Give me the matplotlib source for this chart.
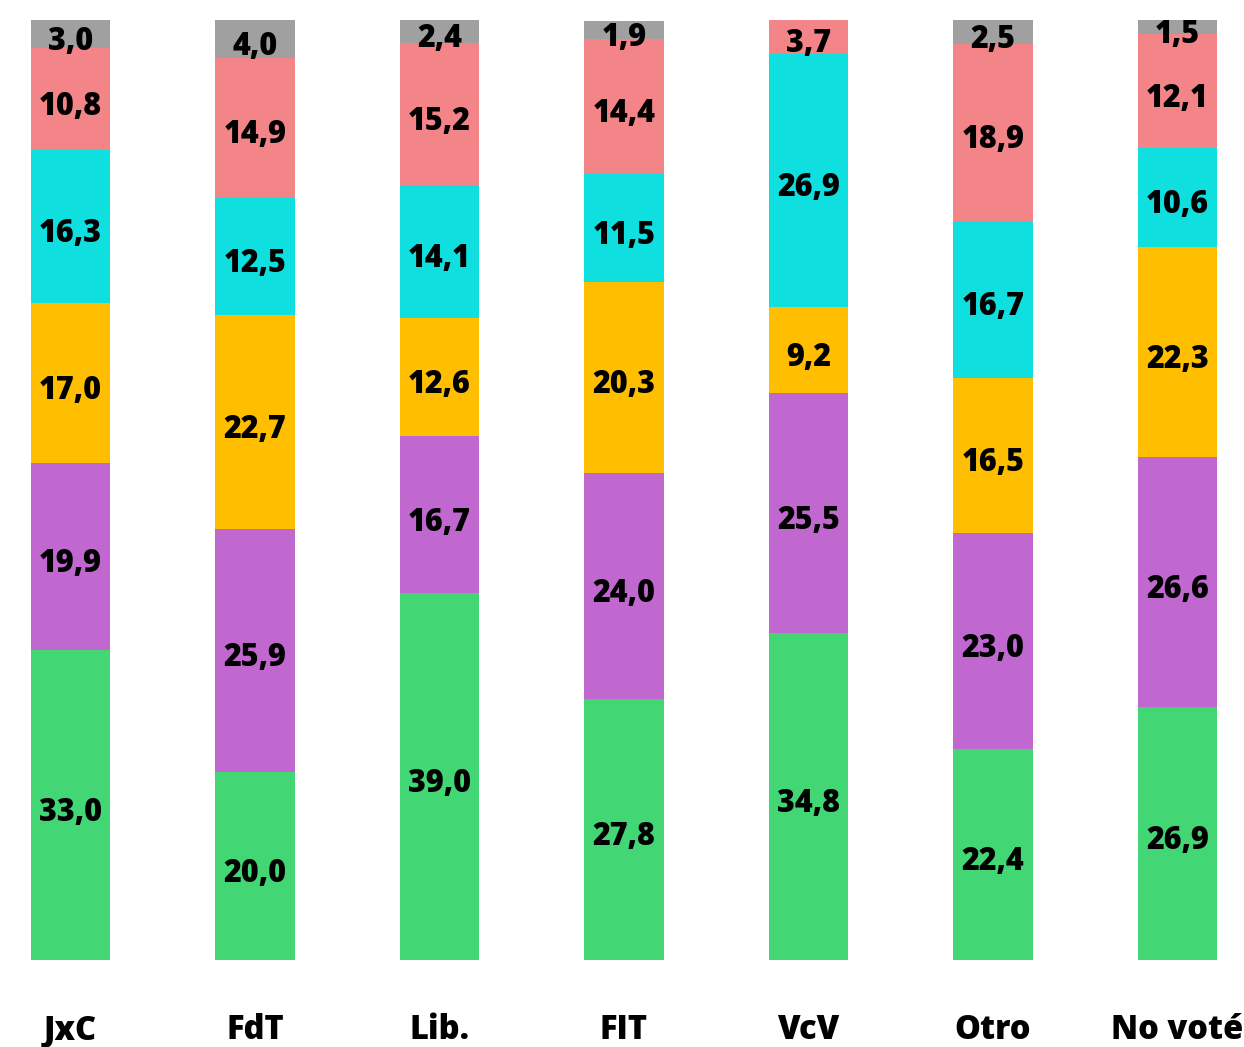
import matplotlib
matplotlib.use("Agg")
import matplotlib.pyplot as plt
import numpy as np

categories = ["JxC", "FdT", "Lib.", "FIT", "VcV", "Otro", "No voté"]
green = [33.0, 20.0, 39.0, 27.8, 34.8, 22.4, 26.9]
purple = [19.9, 25.9, 16.7, 24.0, 25.5, 23.0, 26.6]
yellow = [17.0, 22.7, 12.6, 20.3, 9.2, 16.5, 22.3]
cyan = [16.3, 12.5, 14.1, 11.5, 26.9, 16.7, 10.6]
pink = [10.8, 14.9, 15.2, 14.4, 3.7, 18.9, 12.1]
gray = [3.0, 4.0, 2.4, 1.9, 0.0, 2.5, 1.5]

series = [green, purple, yellow, cyan, pink, gray]
colors = ["#42d674", "#c068d0", "#ffbf00", "#10dfe0", "#f38487", "#a0a0a0"]

plt.rcParams['font.family'] = ['Open Sans', 'DejaVu Sans']

fig = plt.figure(figsize=(12.44, 10.47), dpi=100)
ax = fig.add_axes([31/1244, 1 - 960/1047, (1217 - 31)/1244, (960 - 20)/1047])

x = np.arange(len(categories))
width = 0.43
bottom = np.zeros(len(categories))
for vals, col in zip(series, colors):
    vals = np.array(vals)
    ax.bar(x, vals, width, bottom=bottom, color=col, edgecolor="none")
    for xi, b, v in zip(x, bottom, vals):
        if v > 0:
            ax.text(xi, b + v / 2 - 0.4, f"{v:.1f}".replace(".", ","), ha="center",
                    va="center_baseline", fontsize=22, fontweight="heavy",
                    color="black")
    bottom += vals

ax.set_xlim(-width / 2, len(categories) - 1 + width / 2)
ax.set_ylim(0, 100)
ax.set_xticks(x)
ax.set_xticklabels(categories, fontsize=23.5, fontweight="heavy")
ax.tick_params(axis="x", length=0, pad=38)
ax.set_yticks([])
for s in ax.spines.values():
    s.set_visible(False)

fig.savefig("out.png", dpi=100)
